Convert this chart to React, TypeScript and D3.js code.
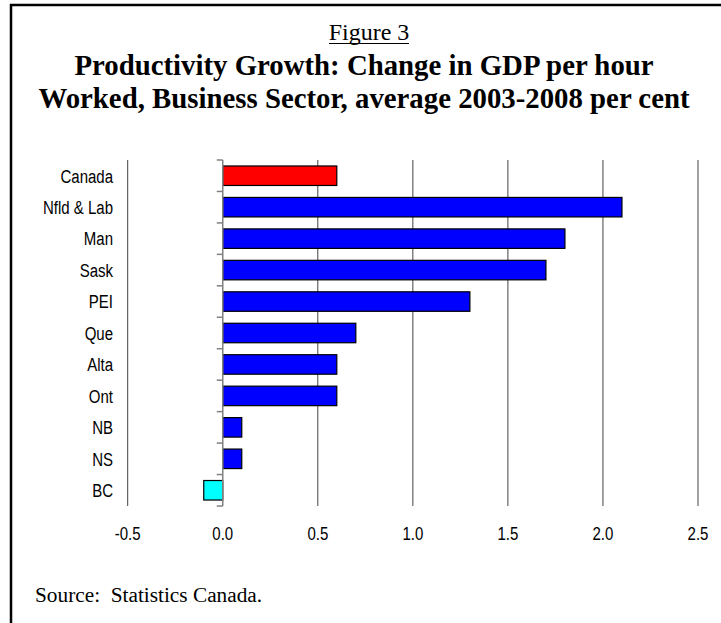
import React from "react";
import * as d3 from "d3";

const categories = ["Canada", "Nfld & Lab", "Man", "Sask", "PEI", "Que", "Alta", "Ont", "NB", "NS", "BC"];
const values = [0.6, 2.1, 1.8, 1.7, 1.3, 0.7, 0.6, 0.6, 0.1, 0.1, -0.1];
const barColors = ["#ff0000", "#0000ff", "#0000ff", "#0000ff", "#0000ff", "#0000ff", "#0000ff", "#0000ff", "#0000ff", "#0000ff", "#00ffff"];
const xTicks = [-0.5, 0, 0.5, 1.0, 1.5, 2.0, 2.5];
const figureLabel = "Figure 3";
const titleLines = ["Productivity Growth: Change in GDP per hour", "Worked, Business Sector, average 2003-2008 per cent"];
const sourceText = "Source:  Statistics Canada.";

const W = 721;
const H = 623;
const plot = { left: 127.7, right: 698, top: 160, bottom: 506 };

export default function App() {
  const x = d3.scaleLinear().domain([-0.5, 2.5]).range([plot.left, plot.right]);
  const y = d3.scaleBand<string>().domain(categories).range([plot.top, plot.bottom]).paddingInner(0.38).paddingOuter(0.19);
  const band = (plot.bottom - plot.top) / categories.length;
  const sans = "'Liberation Sans', Arial, sans-serif";
  const serif = "'Liberation Serif', 'Times New Roman', serif";
  const x0 = x(0);
  const sx = 0.79;
  const fmt = (t: number) => d3.format(".1f")(t).replace("\u2212", "-");
  return (
    <svg width={W} height={H} style={{ position: "absolute", left: 0, top: 0, background: "#fff" }}>
      <rect x={0} y={0} width={W} height={H} fill="#fff" />
      <line x1={10} x2={W} y1={5} y2={5} stroke="#000" strokeWidth={2.5} />
      <line x1={11} x2={11} y1={4} y2={H} stroke="#000" strokeWidth={2.5} />
      <text x={369} y={40} textAnchor="middle" fontFamily={serif} fontSize={24} fill="#000">{figureLabel}</text>
      <line x1={329} x2={409} y1={43.5} y2={43.5} stroke="#000" strokeWidth={1.2} />
      {titleLines.map((t, i) => (
        <text key={i} x={364} y={75 + i * 33} textAnchor="middle" fontFamily={serif} fontWeight="bold" fontSize={28.8} fill="#000">{t}</text>
      ))}
      {xTicks.filter((t) => t !== 0).map((t) => (
        <line key={"g" + t} x1={x(t)} x2={x(t)} y1={plot.top} y2={plot.bottom} stroke="#444" strokeWidth={1} />
      ))}
      {categories.map((c, i) => {
        const v = values[i];
        const xa = Math.min(x(v), x0);
        const wd = Math.abs(x(v) - x0);
        return (
          <rect key={c} x={xa} y={y(c)} width={wd} height={y.bandwidth()} fill={barColors[i]} stroke="#000" strokeWidth={1.2} />
        );
      })}
      <line x1={x0} x2={x0} y1={plot.top} y2={plot.bottom} stroke="#808080" strokeWidth={1.5} />
      {d3.range(categories.length + 1).map((i) => (
        <line key={"t" + i} x1={x0 - 6} x2={x0} y1={plot.top + i * band} y2={plot.top + i * band} stroke="#808080" strokeWidth={1.5} />
      ))}
      {categories.map((c) => (
        <text key={"l" + c} transform={`translate(113,${(y(c) as number) + y.bandwidth() / 2}) scale(${sx},1)`} dy="0.36em" textAnchor="end" fontFamily={sans} fontSize={19} fill="#000">{c}</text>
      ))}
      {xTicks.map((t) => (
        <text key={"x" + t} transform={`translate(${x(t)},540) scale(${sx},1)`} textAnchor="middle" fontFamily={sans} fontSize={19} fill="#000">{fmt(t)}</text>
      ))}
      <text x={35} y={602} fontFamily={serif} fontSize={21.3} fill="#000" style={{ whiteSpace: "pre" }}>{sourceText}</text>
    </svg>
  );
}
